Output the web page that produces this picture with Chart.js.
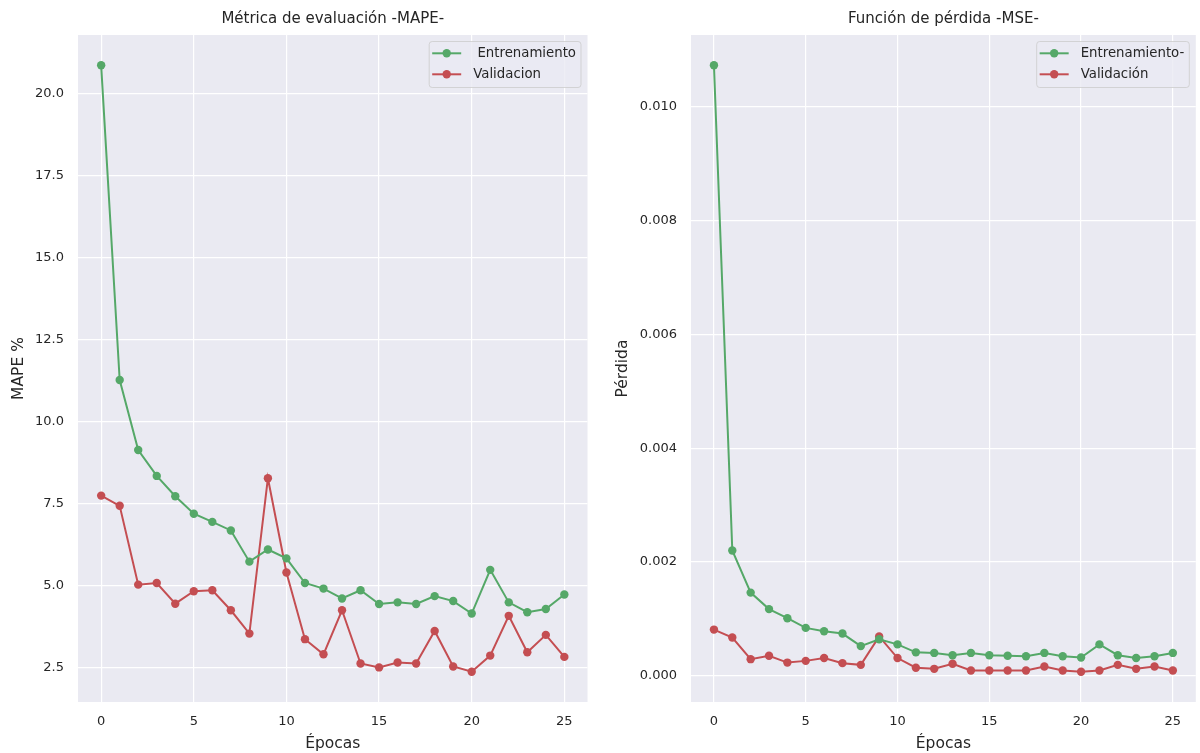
<!DOCTYPE html>
<html lang="es">
<head>
<meta charset="utf-8">
<title>Métrica de evaluación y función de pérdida</title>
<script src="https://cdn.jsdelivr.net/npm/chart.js@4.4.1/dist/chart.umd.min.js"></script>
<style>
  html, body { margin: 0; padding: 0; background: #ffffff; }
  #wrap { position: relative; width: 1200px; height: 753px; overflow: hidden; }
  canvas { position: absolute; top: 0; }
  #mape { left: 0; }
  #mse { left: 600px; }
</style>
</head>
<body>
<div id="wrap">
  <canvas id="mape" width="600" height="753"></canvas>
  <canvas id="mse" width="600" height="753"></canvas>
</div>
<script>
// Training history: 26 epochs
const epochs = [0,1,2,3,4,5,6,7,8,9,10,11,12,13,14,15,16,17,18,19,20,21,22,23,24,25];

// MAPE (%) per epoch
const mapeTrain = [20.85,11.27,9.14,8.35,7.73,7.20,6.95,6.69,5.74,6.11,5.84,5.09,4.92,4.62,4.87,4.45,4.50,4.45,4.69,4.54,4.16,5.49,4.50,4.20,4.30,4.74];
const mapeVal   = [7.75,7.44,5.04,5.09,4.46,4.84,4.87,4.26,3.55,8.28,5.41,3.38,2.92,4.26,2.64,2.52,2.67,2.64,3.63,2.55,2.39,2.88,4.09,2.98,3.51,2.84];

// MSE loss per epoch
const mseTrain = [0.01073,0.00220,0.00146,0.00117,0.00101,0.00084,0.00078,0.00074,0.00052,0.00064,0.00055,0.00041,0.00040,0.00036,0.00040,0.00036,0.00035,0.00034,0.00040,0.00034,0.00032,0.00055,0.00036,0.00031,0.00034,0.00040];
const mseVal   = [0.00081,0.00067,0.00029,0.00035,0.00023,0.00026,0.00031,0.00022,0.00019,0.00069,0.00031,0.00014,0.00012,0.00021,0.00009,0.00009,0.00009,0.00009,0.00016,0.00009,0.00007,0.00009,0.00019,0.00012,0.00016,0.00009];

// Tick positions
const epochTicks = [0,5,10,15,20,25];
const mapeTicks  = [2.5,5.0,7.5,10.0,12.5,15.0,17.5,20.0];
const mseTicks   = [0.000,0.002,0.004,0.006,0.008,0.010];

const GREEN = '#55A868';
const RED = '#C44E52';
const TEXT = '#262626';
const FONT = '"DejaVu Sans", "Liberation Sans", sans-serif';

// Axis limits padded by 5% of the data span on each side
function paddedRange(values, frac) {
  const lo = Math.min(...values), hi = Math.max(...values);
  const m = (hi - lo) * frac;
  return [lo - m, hi + m];
}

const toPoints = ys => ys.map((y, i) => ({ x: epochs[i], y }));

// Grey panel behind the plot plus an in-axes legend box
const panelAndLegend = {
  id: 'panelAndLegend',
  beforeDraw(chart) {
    const { ctx, chartArea: a } = chart;
    ctx.save();
    ctx.fillStyle = '#EAEAF2';
    ctx.fillRect(a.left, a.top, a.right - a.left, a.bottom - a.top);
    ctx.restore();
  },
  afterDraw(chart) {
    const { ctx, chartArea: a } = chart;
    const sets = chart.data.datasets;
    ctx.save();
    ctx.font = '13.3px ' + FONT;
    const maxW = Math.max(...sets.map(d => ctx.measureText(d.label).width));
    const boxW = 44.5 + maxW + 4.5;
    const boxH = 46;
    const x0 = a.right - 7 - boxW;
    const y0 = a.top + 6;
    ctx.beginPath();
    ctx.roundRect(x0 + 0.5, y0 + 0.5, boxW, boxH, 3);
    ctx.fillStyle = 'rgba(234,234,242,0.8)';
    ctx.fill();
    ctx.strokeStyle = 'rgba(204,204,204,0.8)';
    ctx.lineWidth = 1;
    ctx.stroke();
    sets.forEach((d, i) => {
      const y = y0 + 12.3 + i * 21;
      ctx.beginPath();
      ctx.moveTo(x0 + 3.5, y);
      ctx.lineTo(x0 + 32.5, y);
      ctx.strokeStyle = d.borderColor;
      ctx.lineWidth = 2;
      ctx.stroke();
      ctx.beginPath();
      ctx.arc(x0 + 18, y, 4.2, 0, Math.PI * 2);
      ctx.fillStyle = d.borderColor;
      ctx.fill();
      ctx.fillStyle = TEXT;
      ctx.textBaseline = 'middle';
      ctx.textAlign = 'left';
      ctx.fillText(d.label, x0 + 44.5, y);
    });
    ctx.restore();
  }
};

function series(label, values, color) {
  return {
    label,
    data: toPoints(values),
    borderColor: color,
    backgroundColor: color,
    borderWidth: 2,
    pointRadius: 4.2,
    pointHoverRadius: 4.2,
    pointBorderWidth: 0,
    pointBackgroundColor: color,
    tension: 0
  };
}

function makeChart(canvasId, cfg) {
  const [ymin, ymax] = paddedRange(cfg.allValues, 0.05);
  return new Chart(document.getElementById(canvasId), {
    type: 'line',
    data: { datasets: cfg.datasets },
    options: {
      responsive: false,
      animation: false,
      devicePixelRatio: 1,
      events: [],
      layout: { padding: { left: 0, right: cfg.rightPad, top: 0, bottom: 0 } },
      plugins: {
        legend: { display: false },
        tooltip: { enabled: false },
        title: {
          display: true,
          text: cfg.title,
          fullSize: false,
          color: TEXT,
          font: { family: FONT, size: 15, weight: 'normal' },
          padding: { top: 10.3, bottom: 6.7 }
        }
      },
      scales: {
        x: {
          type: 'linear',
          min: epochs[0] - 1.25,
          max: epochs[epochs.length - 1] + 1.25,
          afterBuildTicks: s => { s.ticks = epochTicks.map(v => ({ value: v })); },
          afterFit: s => { s.height = 51; },
          grid: { color: '#FFFFFF', lineWidth: 1.2, drawTicks: false },
          border: { display: false },
          ticks: {
            color: TEXT, padding: 12, maxRotation: 0,
            font: { family: FONT, size: 13 },
            callback: v => String(v)
          },
          title: {
            display: true, text: 'Épocas', color: TEXT,
            font: { family: FONT, size: 15.5 },
            padding: { top: 0, bottom: 0 }
          }
        },
        y: {
          type: 'linear',
          min: ymin,
          max: ymax,
          afterBuildTicks: s => { s.ticks = cfg.yTicks.map(v => ({ value: v })); },
          afterFit: s => { s.width = cfg.yWidth; },
          grid: { color: '#FFFFFF', lineWidth: 1.2, drawTicks: false },
          border: { display: false },
          ticks: {
            color: TEXT, padding: 14,
            font: { family: FONT, size: 13 },
            callback: v => Number(v).toFixed(cfg.decimals)
          },
          title: {
            display: true, text: cfg.yLabel, color: TEXT,
            font: { family: FONT, size: 15.5 },
            padding: { top: cfg.yTitlePad, bottom: 0 }
          }
        }
      }
    },
    plugins: [panelAndLegend]
  });
}

makeChart('mape', {
  title: 'Métrica de evaluación -MAPE-',
  yLabel: 'MAPE %',
  datasets: [
    series(' Entrenamiento', mapeTrain, GREEN),
    series('Validacion', mapeVal, RED)
  ],
  allValues: mapeTrain.concat(mapeVal),
  yTicks: mapeTicks,
  decimals: 1,
  yWidth: 78,
  yTitlePad: 9.7,
  rightPad: 12.5
});

makeChart('mse', {
  title: 'Función de pérdida -MSE-',
  yLabel: 'Pérdida',
  datasets: [
    series('Entrenamiento-', mseTrain, GREEN),
    series('Validación', mseVal, RED)
  ],
  allValues: mseTrain.concat(mseVal),
  yTicks: mseTicks,
  decimals: 3,
  yWidth: 91,
  yTitlePad: 14,
  rightPad: 0
});
</script>
</body>
</html>
